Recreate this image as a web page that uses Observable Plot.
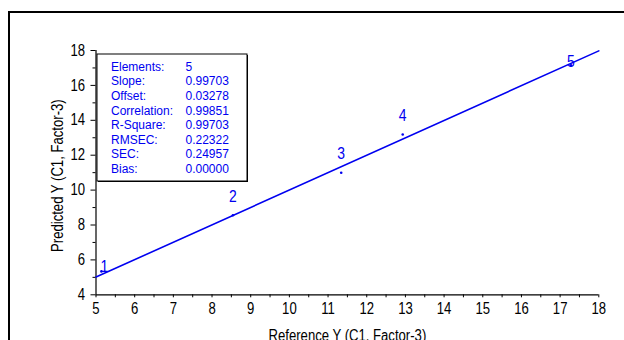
<!DOCTYPE html>
<html>
<head>
<meta charset="utf-8">
<script src="https://cdn.jsdelivr.net/npm/d3@7"></script>
<script src="https://cdn.jsdelivr.net/npm/@observablehq/plot@0.6"></script>
<style>
  html, body { margin: 0; padding: 0; background: #fff; }
  #wrap { position: relative; width: 624px; height: 340px; overflow: hidden; }
  #frame { position: absolute; left: 8px; top: 11px; width: 700px; height: 400px;
           border-left: 2px solid #000; border-top: 2px solid #000; box-sizing: border-box; }
  #chart { position: absolute; left: 0; top: 0; }
</style>
</head>
<body>
<div id="wrap"><div id="frame"></div><div id="chart"></div></div>
<script>
// Sample data
const sampleIds   = ["1", "2", "3", "4", "5"];
const referenceY  = [5.14, 8.54, 11.34, 12.93, 17.28];
const predictedY  = [5.34, 8.56, 10.99, 13.19, 17.15];

// Statistics box
const statLabels = ["Elements:", "Slope:", "Offset:", "Correlation:", "R-Square:", "RMSEC:", "SEC:", "Bias:"];
const statValues = ["5", "0.99703", "0.03278", "0.99851", "0.99703", "0.22322", "0.24957", "0.00000"];
const slope = 0.99703;
const offset = 0.03278;

// Axes
const xDomain = [5, 18];
const yDomain = [4, 18];
const xMajorTicks = d3.range(5, 18.01, 1);
const xMinorTicks = d3.range(5.5, 18, 1);
const yMajorTicks = d3.range(4, 18.01, 2);
const yMinorTicks = d3.range(5, 18, 2);
const xTitle = "Reference Y (C1, Factor-3)";
const yTitle = "Predicted Y (C1, Factor-3)";

const points = sampleIds.map((id, i) => ({id, x: referenceY[i], y: predictedY[i]}));
const fitLine = xDomain.map(x => ({x, y: slope * x + offset}));

const blue = "#0000f0";
const sans = "'Liberation Sans', Arial, sans-serif";

// Stats box background (drawn in pixel space of the frame)
const boxMark = (index, scales, values, dims) => {
  const g = d3.create("svg:g");
  const x0 = dims.marginLeft + 1.5, y0 = dims.marginTop + 4;
  g.append("rect").attr("x", x0 + 1).attr("y", y0 + 1).attr("width", 150).attr("height", 127).attr("fill", "#000");
  g.append("rect").attr("x", x0).attr("y", y0).attr("width", 150).attr("height", 127)
    .attr("fill", "#fff").attr("stroke", "#000").attr("stroke-width", 1);
  return g.node();
};

const chart = Plot.plot({
  width: 624,
  height: 340,
  marginLeft: 95.5,
  marginRight: 25.7,
  marginTop: 50,
  marginBottom: 45.7,
  style: { fontFamily: sans, fontSize: "16px", color: "#000", background: "transparent", overflow: "visible" },
  x: { domain: xDomain },
  y: { domain: yDomain },
  marks: [
    Plot.axisX({ ticks: xMajorTicks, tickSize: 3, tickPadding: 5, tickFormat: d => d, label: null, fontSize: 16, className: "narrow" }),
    Plot.axisX({ ticks: xMinorTicks, tickSize: 3, tickFormat: () => "", label: null }),
    Plot.axisY({ ticks: yMajorTicks, tickSize: 5, tickPadding: 6, tickFormat: d => d, label: null, fontSize: 16, className: "narrow" }),
    Plot.axisY({ ticks: yMinorTicks, tickSize: 3, tickFormat: () => "", label: null }),
    Plot.ruleX([xDomain[0]], { stroke: "#000", strokeWidth: 1.2 }),
    Plot.ruleY([yDomain[0]], { stroke: "#000", strokeWidth: 1.2 }),
    Plot.text([xTitle], { frameAnchor: "bottom", dy: 35, lineAnchor: "top", textAnchor: "middle", fontSize: 16, fill: "#000", className: "narrow" }),
    Plot.text([yTitle], { frameAnchor: "left", dx: -38, dy: 3, rotate: -90, textAnchor: "middle", lineAnchor: "middle", fontSize: 16, fill: "#000", className: "narrow" }),
    boxMark,
    Plot.text([statLabels.join("\n")], { frameAnchor: "top-left", dx: 15, dy: 10, lineAnchor: "top", textAnchor: "start",
      fontSize: 12, lineHeight: 14.6 / 12, fill: blue }),
    Plot.text([statValues.join("\n")], { frameAnchor: "top-left", dx: 89.5, dy: 10, lineAnchor: "top", textAnchor: "start",
      fontSize: 12, lineHeight: 14.6 / 12, fill: blue }),
    Plot.line(fitLine, { x: "x", y: "y", stroke: blue, strokeWidth: 1.6 }),
    Plot.dot(points, { x: "x", y: "y", r: 1.3, fill: blue }),
    Plot.text(points.filter(d => d.id === "1"), { x: "x", y: "y", text: "id", dx: 3, dy: -5, fill: blue, fontSize: 17, className: "narrow" }),
    Plot.text(points.filter(d => ["2", "3", "4"].includes(d.id)), { x: "x", y: "y", text: "id", dy: -19, fill: blue, fontSize: 17, className: "narrow" }),
    Plot.text(points.filter(d => d.id === "5"), { x: "x", y: "y", text: "id", dy: -4, fill: blue, fontSize: 17, className: "narrow" })
  ]
});
document.getElementById("chart").appendChild(chart);

// Emulate the condensed (Arial Narrow-like) face of the original by compressing glyphs
d3.select(chart).selectAll("g[class^='narrow'] text, g.narrow text").each(function () {
  const len = this.getComputedTextLength();
  if (len > 0) {
    this.setAttribute("textLength", (len * 0.82).toFixed(2));
    this.setAttribute("lengthAdjust", "spacingAndGlyphs");
  }
});
</script>
</body>
</html>
